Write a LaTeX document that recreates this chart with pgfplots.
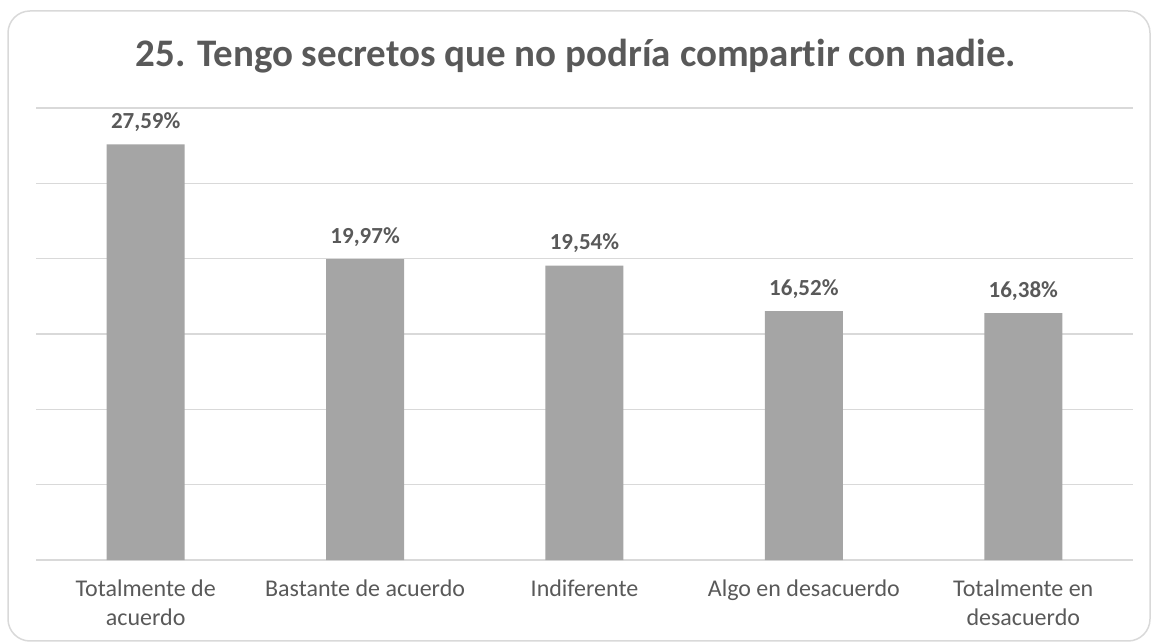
\documentclass[border=0pt]{standalone}
\usepackage{pgfplots}
\pgfplotsset{compat=1.18}
\usepackage{fontspec}
\setmainfont{Carlito}[Ligatures=NoCommon]

\definecolor{bargray}{HTML}{A5A5A5}
\definecolor{gridgray}{HTML}{D9D9D9}
\definecolor{textgray}{HTML}{595959}

\begin{document}
\begin{tikzpicture}
  \useasboundingbox (0bp,0bp) rectangle (1153bp,643bp);
  \draw[gridgray, line width=1.5bp, rounded corners=22bp]
    (8bp,2bp) rectangle (1150bp,632bp);
  \node[text=textgray, font=\fontsize{39bp}{44bp}\selectfont\bfseries]
    at (576bp,587bp) {25. Tengo secretos que no podría compartir con nadie.};

  \begin{axis}[
      at={(36bp,83bp)}, anchor=south west,
      scale only axis,
      width=1097bp, height=452bp,
      xmin=-0.5, xmax=4.5,
      ymin=0, ymax=30,
      ybar, bar width=78bp,
      axis x line*=bottom,
      axis y line*=left,
      x axis line style={draw=gridgray, line width=1.5bp, -},
      y axis line style={draw=none},
      ymajorgrids,
      ytick={0,5,...,30},
      yticklabel=\empty,
      grid style={draw=gridgray, line width=1.5bp},
      xtick=data,
      major tick length=0pt,
      /pgf/number format/assume math mode=true,
      xticklabels={Totalmente de\\acuerdo, Bastante de acuerdo, Indiferente, Algo en desacuerdo, Totalmente en\\desacuerdo},
      xticklabel style={align=center, text=textgray,
        font=\fontsize{24bp}{29bp}\selectfont, yshift=-16bp},
      nodes near coords={\pgfmathprintnumber[fixed,fixed zerofill,precision=2,use comma]{\pgfplotspointmeta}\%},
      nodes near coords style={text=textgray,
        font=\fontsize{23bp}{27bp}\selectfont\bfseries, yshift=9bp},
      clip=false,
    ]
    \addplot[fill=bargray, draw=none] coordinates {
      (0,27.59) (1,19.97) (2,19.54) (3,16.52) (4,16.38)
    };
  \end{axis}
\end{tikzpicture}
\end{document}
